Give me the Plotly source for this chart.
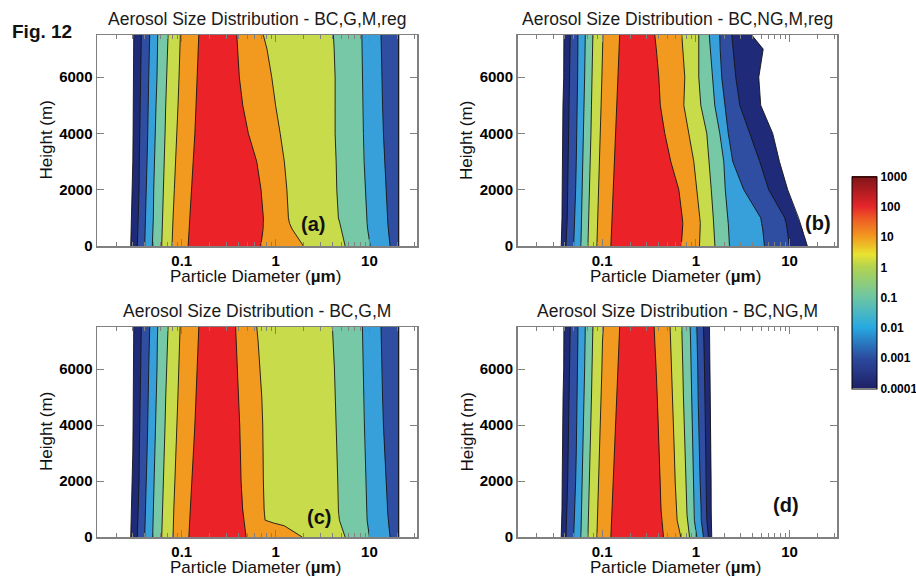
import math
import plotly.graph_objects as go

# ---------------- data ----------------
# heights (m) at which contour crossing diameters were read
H = [0, 200, 400, 500, 600, 800, 1000, 2000, 3000, 4000, 5000, 6000, 7000, 7500]
# contour levels of the size distribution (decades)
LEVELS = [1e-4, 1e-3, 1e-2, 1e-1, 1, 10, 100]
CBAR_TICKS = [1e-4, 1e-3, 1e-2, 1e-1, 1, 10, 100, 1000]
CBAR_TEXT = ["0.0001", "0.001", "0.01", "0.1", "1", "10", "100", "1000"]
X_TICKS = [0.1, 1, 10]
X_TEXT = ["0.1", "1", "10"]
Y_TICKS = [0, 2000, 4000, 6000]

# left (small-diameter) crossing diameter, um, for each level (rows) at each height
a_left = [
    [.0286, .0287, .0288, .0289, .029, .0292, .0293, .0298, .0301, .0303, .0305, .0308, .0308, .0308],
    [.0336, .0338, .034, .0341, .0342, .0344, .0345, .0351, .0353, .0357, .0359, .0362, .0369, .0371],
    [.0403, .0405, .0407, .0408, .041, .0412, .0413, .042, .0427, .0434, .0437, .0445, .0452, .0456],
    [.0486, .0489, .0492, .0493, .0494, .0496, .0498, .0503, .051, .0523, .0532, .0545, .055, .0555],
    [.0612, .0615, .0619, .062, .0621, .0624, .0626, .0632, .0648, .0664, .0675, .0692, .0709, .0715],
    [.0788, .0794, .08, .0801, .0802, .0805, .0808, .0834, .0863, .0891, .0913, .0936, .0959, .0966],
    [.117, .118, .1195, .12, .1205, .121, .122, .127, .132, .138, .142, .146, .150, .152],
]
# right (large-diameter) crossing diameter, um (20.5 = end of the size bins)
a_right = [
    [20.5, 20.5, 20.5, 20.5, 20.5, 20.5, 20.5, 20.5, 20.5, 20.5, 20.5, 20.5, 20.5, 20.5],
    [20.5, 20.5, 20.5, 20.5, 20.5, 20.5, 20.5, 20.5, 20.5, 20.5, 20.5, 20.5, 20.5, 20.5],
    [16.6, 16.3, 16.0, 15.9, 15.8, 15.7, 15.6, 15.0, 14.5, 14.1, 13.8, 13.6, 13.4, 13.3],
    [10.2, 9.95, 9.75, 9.65, 9.57, 9.45, 9.38, 9.0, 8.78, 8.63, 8.5, 8.42, 8.36, 8.3],
    [5.51, 5.35, 5.2, 5.12, 5.08, 4.85, 4.67, 4.49, 4.42, 4.31, 4.31, 4.31, 4.21, 4.13],
    [1.98, 1.80, 1.65, 1.575, 1.50, 1.41, 1.37, 1.32, 1.24, 1.12, 1.0, 0.91, 0.81, 0.74],
    [.695, .71, .725, .73, .736, .74, .741, .70, .63, .513, .447, .411, .392, .386],
]

b_left = [
    [.0366, .0368, .037, .0371, .0372, .0373, .0373, .0375, .0375, .0379, .0382, .0389, .0389, .0391],
    [.0411, .0414, .0417, .0419, .042, .0423, .0425, .0429, .0434, .0439, .0443, .0446, .0453, .0457],
    [.0497, .05, .0503, .0505, .0507, .051, .0513, .0522, .053, .0539, .0544, .0548, .0551, .0552],
    [.0594, .0596, .0599, .06, .0601, .0603, .0605, .0614, .0625, .0635, .0643, .0651, .0658, .0661],
    [.0706, .0709, .0712, .0714, .0716, .0718, .0721, .0736, .0748, .076, .077, .0779, .079, .0797],
    [.088, .0884, .0888, .089, .0892, .0896, .09, .0925, .094, .0954, .0975, .0995, .101, .102],
    [.124, .1247, .1254, .1258, .1262, .1267, .127, .1326, .136, .140, .143, .146, .151, .154],
]
b_right = [
    [15.5, 14.9, 14.2, 14.0, 13.7, 13.2, 12.5, 9.57, 7.81, 6.62, 4.93, 4.70, 5.24, 3.95],
    [9.93, 9.80, 9.68, 9.56, 9.45, 9.22, 8.89, 6.0, 4.81, 3.77, 2.95, 2.67, 2.51, 2.42],
    [5.40, 5.35, 5.27, 5.22, 5.18, 5.05, 4.93, 3.25, 2.48, 2.22, 2.04, 1.89, 1.82, 1.80],
    [2.287, 2.276, 2.265, 2.256, 2.248, 2.221, 2.193, 2.063, 1.989, 1.803, 1.594, 1.499, 1.428, 1.393],
    [1.60, 1.59, 1.58, 1.577, 1.575, 1.556, 1.537, 1.463, 1.393, 1.310, 1.131, 1.076, 1.076, 1.076],
    [1.095, 1.103, 1.117, 1.117, 1.117, 1.117, 1.103, 1.025, .952, .842, .745, .763, .727, .709],
    [.700, .709, .718, .722, .727, .727, .718, .659, .541, .467, .418, .403, .379, .365],
]

c_left = [
    [.0286, .0287, .0288, .0289, .029, .0292, .0293, .0298, .0301, .0303, .0305, .0308, .0308, .0308],
    [.0336, .0338, .034, .0341, .0342, .0344, .0345, .0351, .0353, .0357, .0359, .0362, .0369, .0371],
    [.0403, .0405, .0407, .0408, .041, .0412, .0413, .042, .0427, .0434, .0437, .0445, .0452, .0456],
    [.049, .0492, .0494, .0495, .0496, .0498, .05, .0505, .0512, .0523, .0532, .0545, .055, .0555],
    [.0612, .0615, .0619, .062, .0621, .0624, .0626, .0632, .0648, .0664, .0675, .0692, .0709, .0715],
    [.0808, .081, .0813, .0815, .0817, .082, .0823, .0845, .087, .0891, .091, .093, .0955, .096],
    [.119, .12, .121, .1215, .122, .123, .1235, .1287, .133, .138, .142, .146, .150, .152],
]
c_right = [
    [20.5, 20.5, 20.5, 20.5, 20.5, 20.5, 20.5, 20.5, 20.5, 20.5, 20.5, 20.5, 20.5, 20.5],
    [20.5, 20.5, 20.5, 20.5, 20.5, 20.5, 20.5, 20.5, 20.5, 20.5, 20.5, 20.5, 20.5, 20.5],
    [16.6, 16.3, 16.0, 15.9, 15.8, 15.7, 15.6, 15.0, 14.5, 14.1, 13.8, 13.6, 13.4, 13.3],
    [10.0, 9.76, 9.57, 9.52, 9.45, 9.40, 9.38, 9.22, 9.02, 8.84, 8.74, 8.63, 8.48, 8.42],
    [5.51, 5.24, 4.99, 4.87, 4.79, 4.72, 4.67, 4.60, 4.52, 4.42, 4.33, 4.24, 4.10, 4.03],
    [1.92, 1.55, 1.24, 0.95, 0.773, 0.763, 0.754, 0.741, 0.741, 0.730, 0.713, 0.684, 0.651, 0.630],
    [.485, .476, .467, .461, .456, .450, .445, .429, .424, .415, .403, .392, .379, .375],
]

d_left = [
    [.0366, .0368, .037, .0371, .0372, .0373, .0373, .0375, .0376, .0379, .0383, .0389, .039, .0391],
    [.0412, .0414, .0417, .0419, .042, .0423, .0425, .0429, .0434, .0439, .0443, .0446, .0453, .0457],
    [.0497, .05, .0503, .0505, .0507, .051, .0513, .0522, .053, .0537, .0544, .0548, .0551, .0552],
    [.0594, .0596, .0599, .06, .0601, .0603, .0605, .0612, .0622, .0632, .0643, .0651, .0658, .0661],
    [.0706, .0709, .0712, .0714, .0716, .0718, .0721, .0733, .0745, .0757, .077, .0779, .079, .0797],
    [.088, .0884, .0888, .089, .0892, .0896, .09, .0922, .094, .0954, .0975, .0995, .101, .103],
    [.124, .1247, .1254, .1258, .1262, .1267, .127, .1326, .136, .140, .143, .146, .151, .154],
]
d_right = [
    [1.48, 1.47, 1.46, 1.46, 1.456, 1.456, 1.456, 1.456, 1.45, 1.445, 1.43, 1.42, 1.41, 1.40],
    [1.366, 1.34, 1.32, 1.315, 1.31, 1.305, 1.30, 1.287, 1.278, 1.269, 1.252, 1.238, 1.22, 1.208],
    [1.208, 1.18, 1.16, 1.15, 1.143, 1.14, 1.139, 1.111, 1.09, 1.068, 1.058, 1.05, 1.035, 1.025],
    [1.025, 1.0, .98, .97, .965, .962, .959, .945, .925, .906, .898, .891, .88, .870],
    [.857, .84, .825, .815, .808, .805, .802, .782, .766, .750, .738, .727, .715, .709],
    [.692, .67, .65, .64, .632, .627, .622, .602, .590, .578, .566, .555, .54, .532],
    [.452, .447, .442, .437, .432, .428, .425, .416, .408, .400, .388, .377, .365, .359],
]

TITLES = ["Aerosol Size Distribution - BC,G,M,reg", "Aerosol Size Distribution - BC,NG,M,reg",
          "Aerosol Size Distribution - BC,G,M", "Aerosol Size Distribution - BC,NG,M"]
LABELS = ["(a)", "(b)", "(c)", "(d)"]
PANELS = [(a_left, a_right), (b_left, b_right), (c_left, c_right), (d_left, d_right)]

# ---------------- styling ----------------
W, HT = 916, 577
BAND_COLORS = ["#1F2A78", "#2F4EA2", "#37A0DA", "#77C8A6", "#C8DB4B", "#F29A20", "#EB2328"]
CSCALE = [[0, "#1E2167"], [1 / 7, "#2C4B9F"], [2 / 7, "#27A9E1"], [3 / 7, "#6DC6A3"],
          [4 / 7, "#B3D350"], [0.63, "#E8E330"], [5 / 7, "#F29A20"], [0.8, "#EE5A24"],
          [6 / 7, "#E4252A"], [1, "#7D1518"]]
FONT = "Liberation Sans, Arial, sans-serif"
AX_GRAY = "#808080"

# pixel boxes of the four panels: (left, right, top, bottom)
BOXES = [(97, 417, 35, 246), (517.5, 837, 35, 246), (97, 417, 327, 537), (517.5, 837, 327, 537)]


def px(x):
    return x / W


def py(y):
    return 1 - y / HT


fig = go.Figure()

XR = [-1.903, 1.507]
minor_vals = [m * 10 ** e for e in range(-2, 2) for m in range(2, 10)]

for i, (left, right) in enumerate(PANELS):
    xa = "x" if i == 0 else f"x{i + 1}"
    ya = "y" if i == 0 else f"y{i + 1}"
    # filled regions (value above each level)
    for k in range(len(LEVELS)):
        xs = list(left[k]) + list(reversed(right[k]))
        ys = list(H) + list(reversed(H))
        fig.add_trace(go.Scatter(x=xs, y=ys, fill="toself", fillcolor=BAND_COLORS[k],
                                 mode="lines", line=dict(width=0, color=BAND_COLORS[k]),
                                 xaxis=xa, yaxis=ya, hoverinfo="skip", showlegend=False))
    # contour lines
    for k in range(len(LEVELS)):
        for side in (left[k], right[k]):
            fig.add_trace(go.Scatter(x=side, y=H, mode="lines",
                                     line=dict(width=0.9, color="#151515"),
                                     xaxis=xa, yaxis=ya, hoverinfo="skip", showlegend=False))

    l, r, t, b = BOXES[i]
    axkey = "xaxis" if i == 0 else f"xaxis{i + 1}"
    aykey = "yaxis" if i == 0 else f"yaxis{i + 1}"
    fig.update_layout(**{
        axkey: dict(domain=[px(l), px(r)], anchor=ya, type="log", range=XR,
                    tickmode="array", tickvals=X_TICKS, ticktext=X_TEXT,
                    ticks="inside", ticklen=7, tickwidth=1, tickcolor=AX_GRAY,
                    minor=dict(tickmode="array", tickvals=minor_vals, ticks="inside",
                               ticklen=4, tickwidth=1, tickcolor=AX_GRAY, showgrid=False),
                    showline=True, linecolor=AX_GRAY, linewidth=1.5, mirror="ticks",
                    showgrid=False, zeroline=False,
                    tickfont=dict(family=FONT, size=15, color="black", weight="bold")),
        aykey: dict(domain=[py(b), py(t)], anchor=xa, range=[0, 7500],
                    tickmode="array", tickvals=Y_TICKS,
                    ticks="inside", ticklen=7, tickwidth=1, tickcolor=AX_GRAY,
                    showline=True, linecolor=AX_GRAY, linewidth=1.5, mirror="ticks",
                    showgrid=False, zeroline=False,
                    tickfont=dict(family=FONT, size=15, color="black", weight="bold")),
    })

# colorbar (continuous, log scale of the distribution)
fig.add_trace(go.Scatter(
    x=[a_left[0][0]], y=[H[0]], mode="markers", xaxis="x", yaxis="y",
    marker=dict(size=1, opacity=0, color=[math.log10(CBAR_TICKS[0])],
                cmin=math.log10(CBAR_TICKS[0]), cmax=math.log10(CBAR_TICKS[-1]),
                colorscale=CSCALE, showscale=True,
                colorbar=dict(x=px(852), xanchor="left", y=py(176.5), yanchor="top",
                              len=212 / HT, lenmode="fraction", thickness=25,
                              thicknessmode="pixels", xpad=0, ypad=0,
                              outlinewidth=1, outlinecolor="black",
                              tickmode="array", tickvals=[math.log10(v) for v in CBAR_TICKS],
                              ticktext=CBAR_TEXT, ticks="",
                              tickfont=dict(family=FONT, size=12, color="black", weight="bold"))),
    hoverinfo="skip", showlegend=False))

ann = []
for i in range(4):
    l, r, t, b = BOXES[i]
    cx = (l + r) / 2
    ann.append(dict(x=px(cx), y=py(t - 16), text=TITLES[i], showarrow=False,
                    xref="paper", yref="paper", xanchor="center", yanchor="middle",
                    font=dict(family=FONT, size=17.5, color="#1a1a1a")))
    ann.append(dict(x=px(cx - 2), y=py(b + 30.5), text="Particle Diameter (<b>µm</b>)",
                    showarrow=False, xref="paper", yref="paper",
                    xanchor="center", yanchor="middle",
                    font=dict(family=FONT, size=17, color="#111")))
    ann.append(dict(x=px(l - 51), y=py((t + b) / 2), text="Height (m)", textangle=-90,
                    showarrow=False, xref="paper", yref="paper",
                    xanchor="center", yanchor="middle",
                    font=dict(family=FONT, size=17, color="#111")))

LABEL_POS = [(313, 224), (817.5, 223), (319, 517), (786, 505)]
for lab, (lx, ly) in zip(LABELS, LABEL_POS):
    ann.append(dict(x=px(lx), y=py(ly), text=lab, showarrow=False, xref="paper", yref="paper",
                    xanchor="center", yanchor="middle",
                    font=dict(family=FONT, size=20, color="#111", weight="bold")))

ann.append(dict(x=px(10), y=py(32), text="Fig. 12", showarrow=False, xref="paper", yref="paper",
                xanchor="left", yanchor="middle",
                font=dict(family=FONT, size=19, color="#111", weight="bold")))

fig.update_layout(width=W, height=HT, margin=dict(l=0, r=0, t=0, b=0, autoexpand=False),
                  paper_bgcolor="white", plot_bgcolor="white", showlegend=False,
                  hovermode=False, annotations=ann)

fig.write_html("out.html", config={"displayModeBar": False, "staticPlot": True},
               post_script="document.body.style.margin='0px';document.body.style.overflow='hidden';")
